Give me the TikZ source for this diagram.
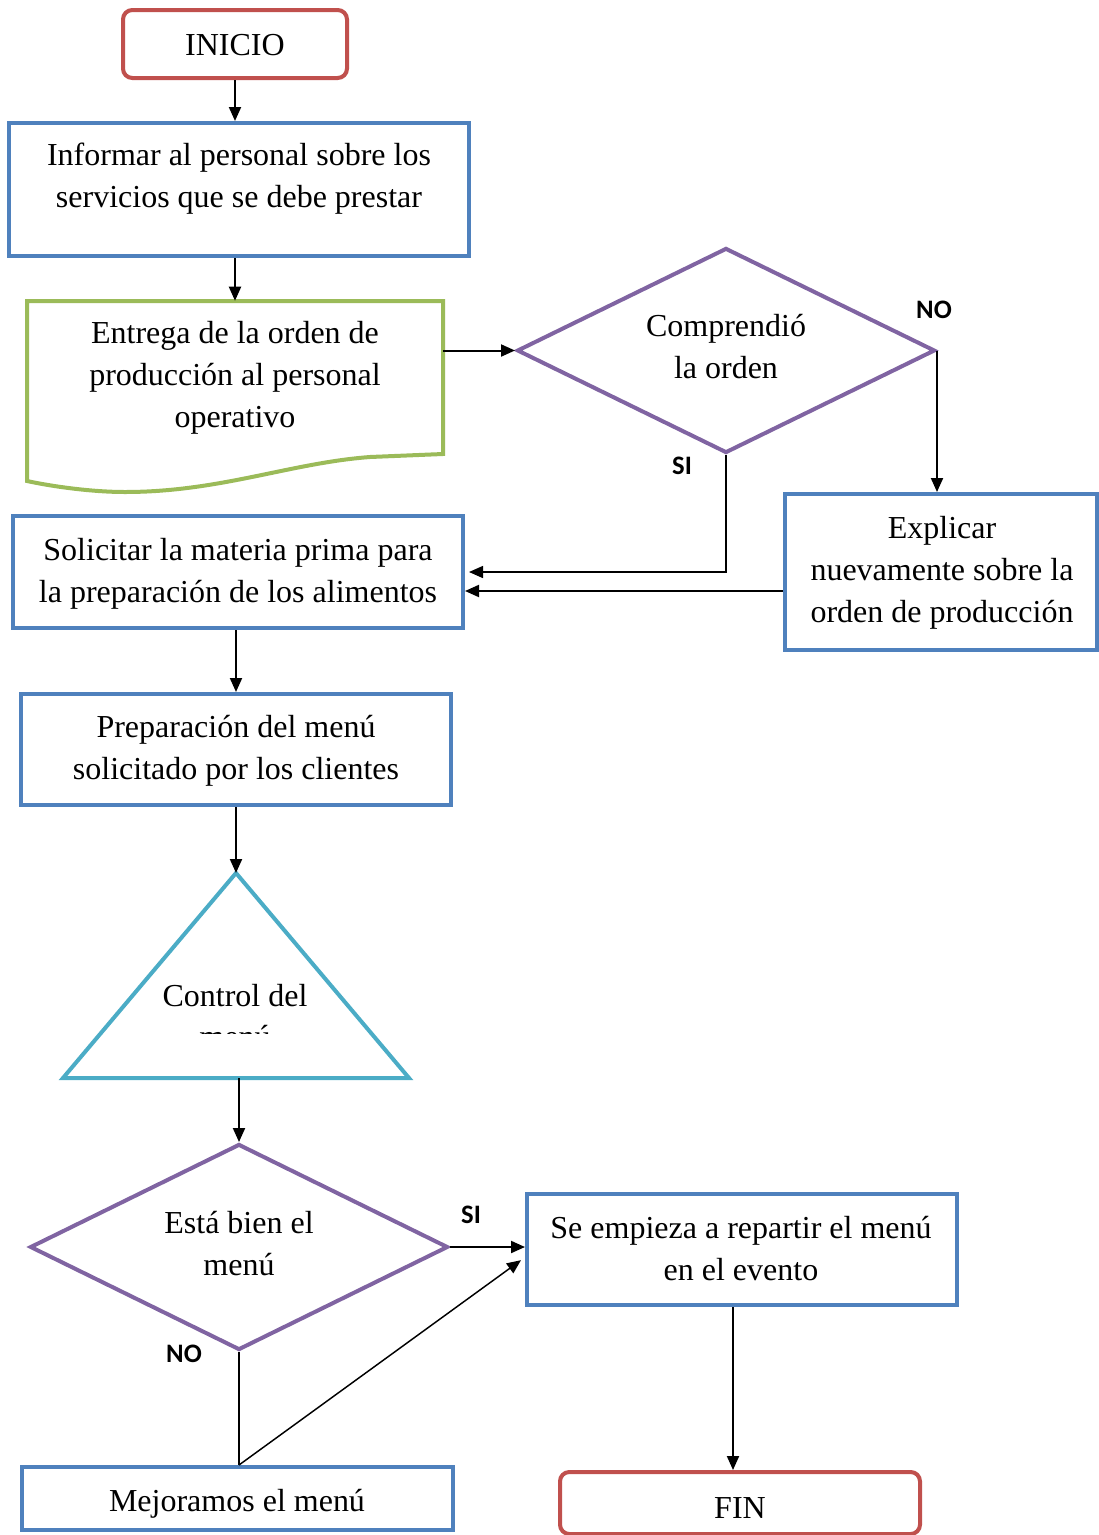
\documentclass[tikz,border=0pt]{standalone}
\usepackage{fontspec}
\setmainfont{Liberation Serif}
\newfontfamily\labfont{Carlito}
\usetikzlibrary{shapes.geometric,arrows.meta}
\definecolor{cred}{HTML}{C0504D}
\definecolor{cblue}{HTML}{4F81BD}
\definecolor{cgreen}{HTML}{9BBB59}
\definecolor{cpurple}{HTML}{8064A2}
\definecolor{ccyan}{HTML}{4BACC6}
\begin{document}
\begin{tikzpicture}[x=0.75pt,y=-0.75pt,
  sz/.style 2 args={minimum width=#1*0.75pt, minimum height=#2*0.75pt},
  txt/.style={align=center, font=\fontsize{24}{31.5}\selectfont, inner sep=0pt},
  bbox/.style={draw=cblue, line width=3pt, inner sep=0pt, align=center, font=\fontsize{24}{31.5}\selectfont},
  rbox/.style={draw=cred, line width=3pt, rounded corners=7pt, inner sep=0pt, font=\fontsize{24}{31.5}\selectfont},
  dia/.style={diamond, draw=cpurple, line width=3pt, inner sep=0pt, aspect=2},
  lab/.style={font=\labfont\bfseries\fontsize{20}{24}\selectfont, inner sep=0pt},
  arr/.style={line width=1.5pt, -{Triangle[length=10.5pt,width=9pt]}},
  ln/.style={line width=1.1pt}
]
\useasboundingbox (0,0) rectangle (1099,1535);

% nodes
\node[rbox, sz={224}{68}] (inicio) at (235,44) {};
\node[txt] (tinicio) at (235,45) {INICIO};
\node[bbox, sz={460}{133}] (informar) at (239,189.5) {};
\node[txt] (tinformar) at (239,179) {Informar al personal sobre los\\servicios que se debe prestar};

% document shape
\node[inner sep=0pt, sz={416}{154}] (entrega) at (235,378) {};
\draw[cgreen, line width=3pt, line join=miter]
  (27,301) -- (443,301) -- (443,454) -- (370,457)
  .. controls (290,463) and (220,492) .. (125,492)
  .. controls (90,492) and (50,486) .. (27,481) -- cycle;
\node[txt] (tentrega) at (235,378) {Entrega de la orden de\\producción al personal\\operativo};

\node[dia, sz={418}{205}] (comp) at (726,350.5) {};
\node[txt] (tcomp) at (726,347) {Comprendió\\la orden};

\node[bbox, sz={312}{156}] (explicar) at (941,572) {};
\node[txt] (texplicar) at (942,572.5) {Explicar\\nuevamente sobre la\\orden de producción};
\node[bbox, sz={450}{112}] (solicitar) at (238,572) {};
\node[txt] (tsolicitar) at (238,574) {Solicitar la materia prima para\\la preparación de los alimentos};
\node[bbox, sz={430}{111}] (prep) at (236,749.5) {};
\node[txt] (tprep) at (236,750.5) {Preparación del menú\\solicitado por los clientes};

% triangle
\coordinate (ctop) at (236,873);
\coordinate (cbot) at (239,1078);
\draw[ccyan, line width=3pt, line join=miter] (ctop) -- (409,1078) -- (63,1078) -- cycle;
\node[txt] (tcontrol) at (235,996) {Control del};
\begin{scope}
  \clip (60,1000) rectangle (410,1033);
  \node[txt] (tmenu) at (235,1037) {menú};
\end{scope}

\node[dia, sz={418}{206}] (esta) at (239,1247) {};
\node[txt] (testa) at (239,1244) {Está bien el\\menú};

\node[bbox, sz={430}{111}] (empieza) at (742,1249.5) {};
\node[txt] (tempieza) at (741,1249) {Se empieza a repartir el menú\\en el evento};
\node[bbox, sz={431}{63}] (mejor) at (237.5,1498.5) {};
\node[txt] (tmejor) at (237,1503.5) {Mejoramos el menú};
\node[rbox, sz={360}{62}] (fin) at (740,1503) {};
\node[txt] (tfin) at (740,1508.5) {FIN};

% labels
\node[lab] (lno1) at (934,310) {NO};
\node[lab] (lsi1) at (682,466) {SI};
\node[lab] (lsi2) at (471,1215) {SI};
\node[lab] (lno2) at (184,1354) {NO};

% connectors
\draw[arr] (inicio.south) -- (inicio.south |- informar.north);
\draw[arr] (informar.south -| entrega.north) -- (entrega.north);
\draw[arr] (entrega.east |- comp.west) -- (comp.west);
\draw[arr] (comp.east) -- (comp.east |- explicar.north);
\draw[arr, line width=1.1pt] (comp.south) |- ([xshift=3pt]solicitar.east);
\draw[arr] ([yshift=-14.25pt]explicar.west) -- ([yshift=-14.25pt]explicar.west -| solicitar.east);
\draw[arr] (solicitar.south -| prep.north) -- (prep.north);
\draw[arr] (prep.south) -- (ctop);
\draw[arr] (cbot) -- (esta.north);
\draw[arr] (esta.east) -- (esta.east -| empieza.west);
\draw[ln] (esta.south) -- (esta.south |- mejor.north);
\draw[arr, line width=1.1pt] (esta.south |- mejor.north) -- ([xshift=-3pt,yshift=-8pt]empieza.west);
\draw[arr] ([xshift=-6.75pt]empieza.south) -- ([xshift=-6.75pt]empieza.south |- fin.north);
\end{tikzpicture}
\end{document}
